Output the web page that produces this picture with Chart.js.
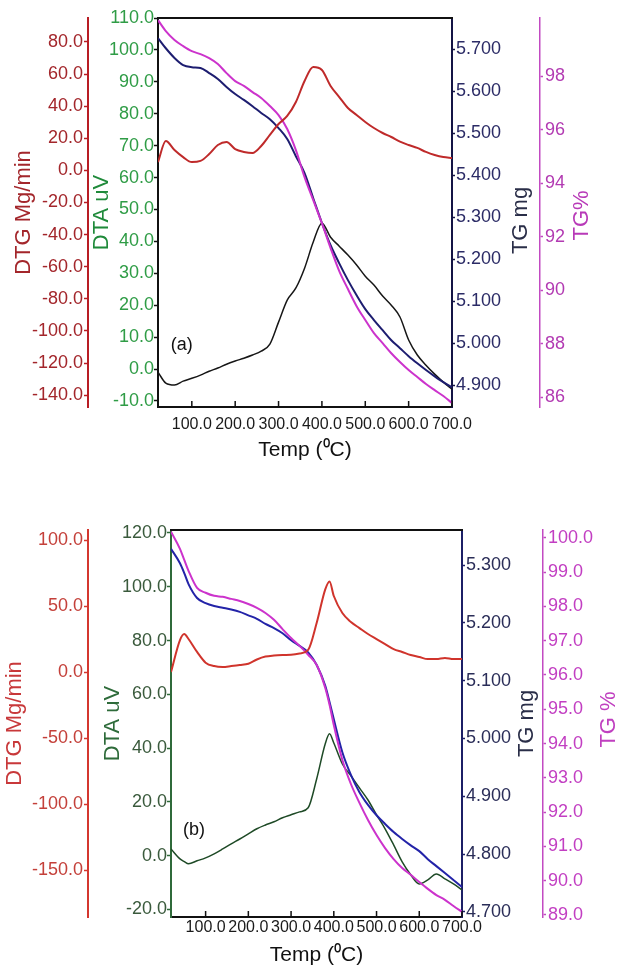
<!DOCTYPE html>
<html>
<head>
<meta charset="utf-8">
<script src="https://cdn.jsdelivr.net/npm/chart.js@4.4.1/dist/chart.umd.min.js"></script>
<style>
  html, body { margin: 0; padding: 0; background: #fff; }
  #wrap { position: relative; width: 618px; height: 968px; }
  canvas { position: absolute; left: 0; }
  #chartA { top: 0; }
  #chartB { top: 480px; }
</style>
</head>
<body>
<div id="wrap">
  <canvas id="chartA" width="618" height="470"></canvas>
  <canvas id="chartB" width="618" height="488"></canvas>
</div>
<script>
const SANS = "'Liberation Sans', Arial, sans-serif";

// panel (a)
const tempA = [22, 40, 60, 80, 100, 120, 140, 160, 180, 200, 220, 240, 260, 280, 300, 320, 340, 360,
  380, 400, 420, 440, 460, 480, 500, 520, 540, 560, 580, 600, 620, 640, 660, 680, 700];
const dtgA = [5.2, 18.3, 12.7, 8.3, 5.2, 5.9, 10.2, 15.8, 17.7, 13.3, 11.5, 10.8, 15.2, 22.1, 28.9, 33.9, 42.6, 55.7,
  64.4, 62.6, 52.6, 45.7, 38.9, 34.5, 30.2, 26.4, 23.3, 20.8, 17.9, 15.8, 14.0, 11.5, 9.6, 8.3, 7.7];
const dtaA = [-1.0, -4.4, -5.0, -3.8, -2.9, -1.9, -0.7, 0.3, 1.5, 2.5, 3.4, 4.4, 5.6, 7.8, 14.7, 21.6, 25.4, 31.6,
  39.8, 45.7, 41.3, 38.5, 35.7, 32.6, 29.1, 26.3, 22.9, 20.0, 16.3, 9.1, 4.4, 1.2, -1.6, -4.1, -6.3];
const tgMgA = [5.726, 5.702, 5.679, 5.662, 5.657, 5.655, 5.643, 5.629, 5.610, 5.593, 5.579, 5.564, 5.548, 5.533, 5.512, 5.486, 5.445, 5.405,
  5.345, 5.286, 5.233, 5.190, 5.150, 5.114, 5.081, 5.055, 5.031, 5.007, 4.988, 4.969, 4.952, 4.936, 4.921, 4.907, 4.895];
const tgPctA = [100.09, 99.68, 99.35, 99.12, 98.93, 98.82, 98.67, 98.45, 98.11, 97.81, 97.63, 97.40, 97.18, 96.88, 96.54, 96.02, 95.23, 94.22,
  93.36, 92.50, 91.57, 90.71, 90.04, 89.40, 88.88, 88.39, 88.02, 87.64, 87.31, 87.01, 86.75, 86.49, 86.26, 86.04, 85.78];

// panel (b)
const tempB = [19, 40, 50, 60, 80, 100, 120, 140, 160, 180, 200, 220, 240, 260, 280, 300, 320, 340, 360,
  380, 390, 400, 420, 440, 460, 480, 500, 520, 540, 560, 580, 600, 620, 640, 660, 680, 700];
const dtgB = [0.0, 24.2, 28.8, 25.0, 15.2, 7.1, 4.5, 3.8, 4.5, 5.3, 6.3, 9.5, 11.7, 12.5, 12.9, 13.1, 14.0, 16.7, 37.3,
  62.6, 68.6, 57.6, 44.7, 37.9, 33.3, 28.8, 25.0, 21.2, 17.4, 15.2, 12.9, 11.4, 9.8, 9.8, 10.6, 9.8, 9.8];
const dtaB = [2.5, -1.2, -2.2, -3.0, -1.9, -0.8, 0.7, 2.5, 4.4, 6.2, 8.1, 10.0, 11.4, 12.6, 14.1, 15.2, 16.3, 17.8, 28.6,
  41.6, 45.3, 41.9, 34.1, 29.7, 25.2, 20.7, 15.2, 10.0, 4.0, -2.3, -7.1, -10.5, -9.0, -6.8, -8.6, -10.5, -12.7];
const tgMgB = [5.328, 5.303, 5.286, 5.267, 5.243, 5.234, 5.229, 5.226, 5.223, 5.219, 5.213, 5.207, 5.198, 5.191, 5.182, 5.170, 5.160, 5.149, 5.127,
  5.091, 5.063, 5.033, 4.976, 4.937, 4.907, 4.885, 4.867, 4.852, 4.838, 4.826, 4.815, 4.805, 4.791, 4.779, 4.767, 4.755, 4.743];
const tgPctB = [100.18, 99.68, 99.36, 99.04, 98.54, 98.40, 98.31, 98.28, 98.22, 98.16, 98.07, 97.96, 97.81, 97.61, 97.34, 97.08, 96.85, 96.59, 96.29,
  95.62, 95.13, 94.54, 93.52, 92.82, 92.27, 91.77, 91.33, 90.95, 90.63, 90.37, 90.17, 89.96, 89.76, 89.58, 89.44, 89.26, 89.09];

// tick labels
const tempTicks = [100, 200, 300, 400, 500, 600, 700];
const dtgTicksA = [80, 60, 40, 20, 0, -20, -40, -60, -80, -100, -120, -140];
const dtaTicksA = [110, 100, 90, 80, 70, 60, 50, 40, 30, 20, 10, 0, -10];
const tgMgTicksA = [5.7, 5.6, 5.5, 5.4, 5.3, 5.2, 5.1, 5.0, 4.9];
const tgPctTicksA = [98, 96, 94, 92, 90, 88, 86];
const dtgTicksB = [100, 50, 0, -50, -100, -150];
const dtaTicksB = [120, 100, 80, 60, 40, 20, 0, -20];
const tgMgTicksB = [5.3, 5.2, 5.1, 5.0, 4.9, 4.8, 4.7];
const tgPctTicksB = [100, 99, 98, 97, 96, 95, 94, 93, 92, 91, 90, 89];

function series(xs, ys, axis, color, width) {
  return {
    data: xs.map((x, i) => ({ x: x, y: ys[i] })),
    yAxisID: axis,
    borderColor: color,
    borderWidth: width,
    pointRadius: 0,
    fill: false,
    cubicInterpolationMode: 'monotone'
  };
}

function yAxis(o) {
  return {
    type: 'linear',
    position: o.pos,
    weight: o.weight,
    min: o.min,
    max: o.max,
    afterBuildTicks: s => { s.ticks = o.ticks.map(v => ({ value: v })); },
    afterFit: s => { s.width = o.width; },
    ticks: {
      color: o.color,
      font: { family: SANS, size: 18 },
      padding: o.pad,
      autoSkip: false,
      callback: v => Number(v).toFixed(o.dec)
    },
    grid: { drawOnChartArea: false, drawTicks: true, tickLength: o.tick, tickColor: o.tickColor || o.line, tickWidth: 1.5 },
    border: { display: true, color: o.line, width: o.lineWidth || 2 },
    title: o.title
      ? { display: true, text: o.title, color: o.titleColor, font: { family: SANS, size: 22 }, padding: { top: o.titlePad, bottom: 0 } }
      : { display: false }
  };
}

function xAxis(min, height, pad, titlePad) {
  return {
    type: 'linear',
    position: 'bottom',
    min: min,
    max: 700,
    afterBuildTicks: s => { s.ticks = tempTicks.map(v => ({ value: v })); },
    afterFit: s => { s.height = height; },
    ticks: {
      color: '#1a1a1a',
      font: { family: SANS, size: 16 },
      padding: pad,
      maxRotation: 0,
      autoSkip: false,
      callback: v => Number(v).toFixed(1)
    },
    grid: { display: false, drawTicks: false },
    border: { display: true, color: '#111', width: 2 },
    title: { display: true, text: 'Temp (\u2070C)', color: '#111', font: { family: SANS, size: 21 }, padding: { top: 0, bottom: titlePad } }
  };
}

// box top, inner temperature ticks, right-hand titles and the panel tag
const framePlugin = {
  id: 'frame',
  afterDraw(chart, args, opts) {
    const { ctx, chartArea: a, scales } = chart;
    ctx.save();
    ctx.strokeStyle = '#111';
    ctx.lineWidth = 2;
    ctx.beginPath();
    ctx.moveTo(a.left - 1, a.top);
    ctx.lineTo(a.right + 1, a.top);
    ctx.stroke();

    ctx.lineWidth = 1.5;
    ctx.beginPath();
    tempTicks.forEach(v => {
      const px = scales.x.getPixelForValue(v);
      ctx.moveTo(px, a.bottom);
      ctx.lineTo(px, a.bottom - 6);
    });
    ctx.stroke();

    ctx.font = '22px ' + SANS;
    ctx.textAlign = 'center';
    ctx.textBaseline = 'middle';
    opts.sideTitles.forEach(t => {
      const s = scales[t.axis];
      ctx.save();
      ctx.translate(s.left + t.dx, (a.top + a.bottom) / 2 + t.dy);
      ctx.rotate(-Math.PI / 2);
      ctx.fillStyle = t.color;
      ctx.fillText(t.text, 0, 0);
      ctx.restore();
    });

    ctx.font = '18px ' + SANS;
    ctx.fillStyle = '#111';
    ctx.fillText(opts.tag, scales.x.getPixelForValue(opts.tagAt[0]), scales.dta.getPixelForValue(opts.tagAt[1]));
    ctx.restore();
  }
};

new Chart(document.getElementById('chartA'), {
  type: 'line',
  data: {
    datasets: [
      series(tempA, dtgA, 'dtg', '#bf2a2a', 2),
      series(tempA, tgPctA, 'tgpct', '#cc33cc', 2),
      series(tempA, tgMgA, 'tgmg', '#1d1d70', 2),
      series(tempA, dtaA, 'dta', '#161616', 1.5)
    ]
  },
  options: {
    responsive: false,
    animation: false,
    devicePixelRatio: 1,
    layout: { padding: { top: 18, left: 0, right: 0, bottom: 0 } },
    plugins: {
      legend: { display: false },
      tooltip: { enabled: false },
      frame: {
        sideTitles: [
          { axis: 'tgmg', text: 'TG mg', color: '#2a2e48', dx: 69, dy: 8 },
          { axis: 'tgpct', text: 'TG%', color: '#b83ab8', dx: 42, dy: 3 }
        ],
        tag: '(a)',
        tagAt: [77, 7.5]
      }
    },
    scales: {
      x: xAxis(22, 63, 8, 7),
      dtg: yAxis({ pos: 'left', weight: 2, min: -147.4, max: 94.95, ticks: dtgTicksA, dec: 1, width: 88,
        color: '#a3262b', line: '#b81d24', tick: 4, pad: 1, title: 'DTG Mg/min', titleColor: '#a3262b', titlePad: 11 }),
      dta: yAxis({ pos: 'left', weight: 1, min: -11.9, max: 110, ticks: dtaTicksA, dec: 1, width: 70,
        color: '#2f9c46', line: '#111', tick: 4, pad: 0, title: 'DTA uV', titleColor: '#1f8a3a', titlePad: 1 }),
      tgmg: yAxis({ pos: 'right', weight: 1, min: 4.848, max: 5.774, ticks: tgMgTicksA, dec: 3, width: 88,
        color: '#2b2b66', line: '#141445', tick: 3, pad: 1 }),
      tgpct: yAxis({ pos: 'right', weight: 2, min: 85.63, max: 100.17, ticks: tgPctTicksA, dec: 0, width: 78,
        color: '#b23ab2', line: '#c24ac2', lineWidth: 1.5, tick: 3, pad: 2 })
    }
  },
  plugins: [framePlugin]
});

new Chart(document.getElementById('chartB'), {
  type: 'line',
  data: {
    datasets: [
      series(tempB, dtgB, 'dtg', '#d0342c', 2),
      series(tempB, tgPctB, 'tgpct', '#cc33cc', 2),
      series(tempB, tgMgB, 'tgmg', '#2323a8', 2),
      series(tempB, dtaB, 'dta', '#1e4a26', 1.5)
    ]
  },
  options: {
    responsive: false,
    animation: false,
    devicePixelRatio: 1,
    layout: { padding: { top: 50, left: 0, right: 0, bottom: 0 } },
    plugins: {
      legend: { display: false },
      tooltip: { enabled: false },
      frame: {
        sideTitles: [
          { axis: 'tgmg', text: 'TG mg', color: '#2a2e48', dx: 65, dy: 0 },
          { axis: 'tgpct', text: 'TG %', color: '#c040c0', dx: 66, dy: -4 }
        ],
        tag: '(b)',
        tagAt: [73, 9.6]
      }
    },
    scales: {
      x: xAxis(19, 51, 1, 0),
      dtg: yAxis({ pos: 'left', weight: 2, min: -185.6, max: 107.6, ticks: dtgTicksB, dec: 1, width: 88,
        color: '#c4403a', line: '#d4372f', tick: 4, pad: 1, title: 'DTG Mg/min', titleColor: '#c8383a', titlePad: 2 }),
      dta: yAxis({ pos: 'left', weight: 1, min: -22.8, max: 121.1, ticks: dtaTicksB, dec: 1, width: 83,
        color: '#3a5a3c', line: '#2f6a3a', tick: 4, pad: 0, title: 'DTA uV', titleColor: '#2e6b3a', titlePad: 12 }),
      tgmg: yAxis({ pos: 'right', weight: 1, min: 4.691, max: 5.3606, ticks: tgMgTicksB, dec: 3, width: 81,
        color: '#2a2d58', line: '#1c1f66', tick: 3, pad: 1 }),
      tgpct: yAxis({ pos: 'right', weight: 2, min: 88.94, max: 100.23, ticks: tgPctTicksB, dec: 1, width: 75,
        color: '#c23ec2', line: '#c24ac2', lineWidth: 1.5, tick: 3, pad: 2 })
    }
  },
  plugins: [framePlugin]
});
</script>
</body>
</html>
